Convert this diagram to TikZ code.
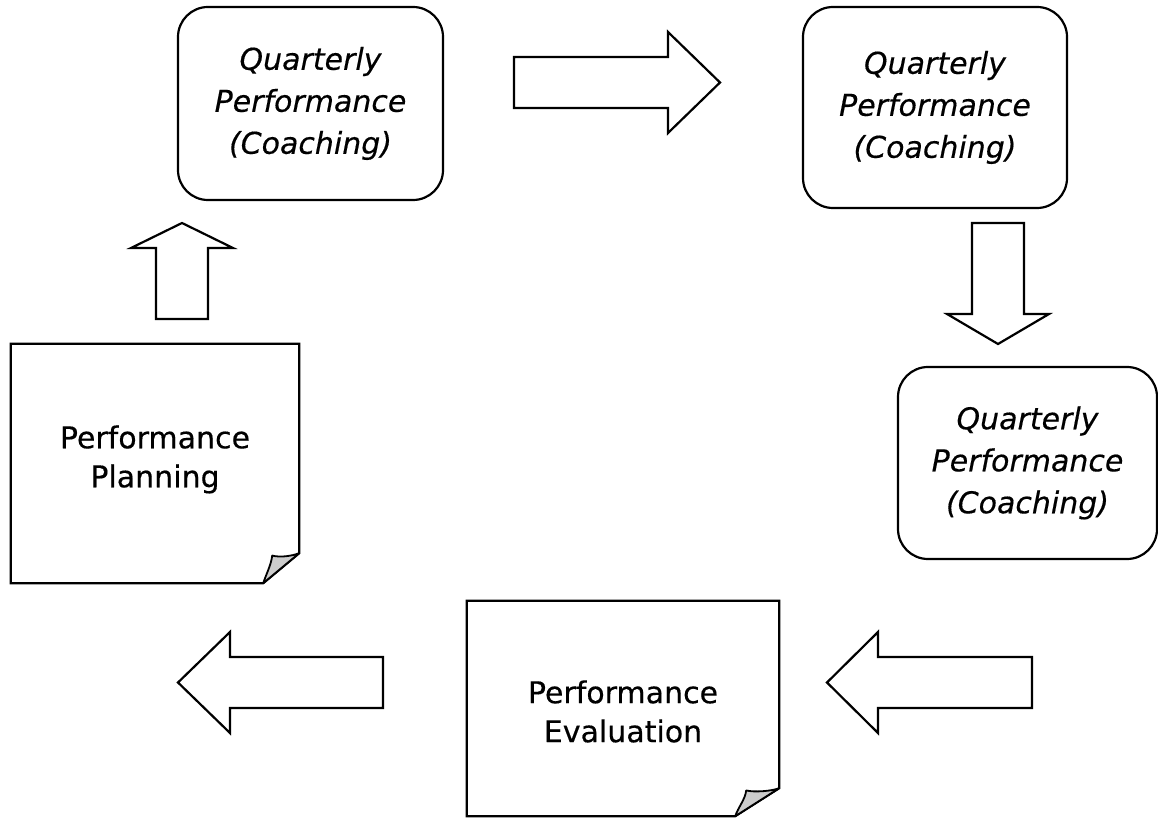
\documentclass[tikz,border=0pt]{standalone}
\usepackage{fontspec}
\setmainfont{DejaVu Sans}[FakeBold=0.4]
\usepackage{tikz}

\begin{document}
\begin{tikzpicture}[
  x=1pt, y=1pt,
  every node/.style={align=center, inner sep=0pt},
  coach/.style={draw, line width=2.2pt, rounded corners=30pt,
    font=\fontsize{30}{42}\selectfont\itshape},
  paper/.style={font=\fontsize{30}{39}\selectfont},
  blockarrow/.style={draw, line width=2.2pt, line join=miter, fill=white},
  fold/.style={draw, line width=1.8pt, fill=gray!40, line join=round}
]
\useasboundingbox (0,0) rectangle (1158,817);

% coaching rounds
\node[coach, minimum width=265pt, minimum height=193pt] (q1) at (310.5,713.5)
  {Quarterly\\Performance\\(Coaching)};
\node[coach, minimum width=264pt, minimum height=201pt] (q2) at (935,709.5)
  {Quarterly\\Performance\\(Coaching)};
\node[coach, minimum width=259pt, minimum height=192pt] (q3) at (1027.5,354)
  {Quarterly\\Performance\\(Coaching)};

% planning and evaluation sheets
\node[paper, minimum width=288pt, minimum height=239pt] (plan) at (155,353.5) {};
\node[paper] (plantext) at (155,357.5) {Performance\\Planning};
\node[paper, minimum width=312pt, minimum height=215pt] (eval) at (623,108.5) {};
\node[paper] (evaltext) at (623,105.5) {Performance\\Evaluation};

\foreach \sheet/\fx/\fy in {plan/36/30, eval/44/28} {
  \draw[line width=2.2pt, line join=miter]
    (\sheet.north west) -- (\sheet.north east)
    -- ([yshift=\fy pt]\sheet.south east)
    -- ([xshift=-\fx pt]\sheet.south east)
    -- (\sheet.south west) -- cycle;
  \path[fold] ([xshift=-\fx pt]\sheet.south east)
    .. controls +(3pt,9pt) and +(-1pt,-9pt) .. ([xshift=-0.75*\fx pt, yshift=0.92*\fy pt]\sheet.south east)
    .. controls +(8pt,-2pt) and +(-8pt,-3pt) .. ([yshift=\fy pt]\sheet.south east)
    -- cycle;
}

% block arrows round the cycle
\draw[blockarrow] (514,709) -- ++(154,0) -- ++(0,-25) -- ++(52,50.5)
  -- ++(-52,50.5) -- ++(0,-25) -- ++(-154,0) -- cycle;
\draw[blockarrow] (972,594) -- ++(52,0) -- ++(0,-91) -- ++(25,0)
  -- ++(-51,-30) -- ++(-51,30) -- ++(25,0) -- cycle;
\draw[blockarrow] (1032,109) -- ++(-154,0) -- ++(0,-25) -- ++(-51,50.5)
  -- ++(51,50.5) -- ++(0,-25) -- ++(154,0) -- cycle;
\draw[blockarrow] (383,109) -- ++(-153,0) -- ++(0,-25) -- ++(-52,50.5)
  -- ++(52,50.5) -- ++(0,-25) -- ++(153,0) -- cycle;
\draw[blockarrow] (156,498) -- ++(52,0) -- ++(0,71) -- ++(25,0)
  -- ++(-51,25) -- ++(-51,-25) -- ++(25,0) -- cycle;
\end{tikzpicture}
\end{document}
